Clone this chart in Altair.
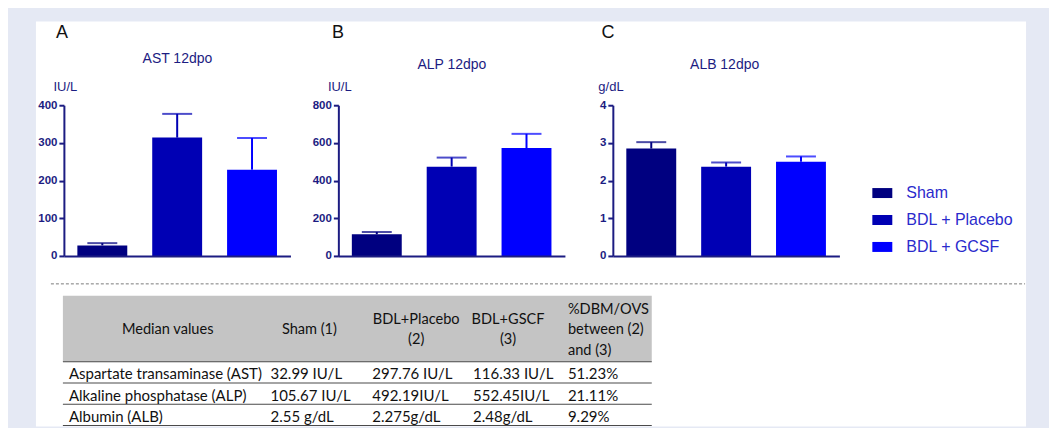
import altair as alt
import pandas as pd

# ---------------- data ----------------
groups = ["Sham", "BDL + Placebo", "BDL + GCSF"]
bar_colors = ["#000080", "#0000b4", "#0000ff"]

ast_mean = [28, 314, 229]
ast_upper = [34, 377, 313]
alp_mean = [115, 474, 573]
alp_upper = [127, 522, 648]
alb_mean = [2.85, 2.37, 2.50]
alb_upper = [3.02, 2.48, 2.64]

table_header = ["Median values", "Sham (1)", "BDL+Placebo\n(2)", "BDL+GSCF\n(3)",
                "%DBM/OVS\nbetween (2)\nand (3)"]
row_labels = ["Aspartate transaminase (AST)", "Alkaline phosphatase (ALP)", "Albumin (ALB)"]
sham_col = ["32.99 IU/L", "105.67 IU/L", "2.55 g/dL"]
placebo_col = ["297.76 IU/L", "492.19IU/L", "2.275g/dL"]
gcsf_col = ["116.33 IU/L", "552.45IU/L", "2.48g/dL"]
pct_col = ["51.23%", "21.11%", "9.29%"]

# ---------------- style ----------------
NAVY = "#1c1c82"
FONT = "Liberation Sans"
TFONT = "Lato"
BG = "#e5e9f4"
W, H = 227, 151
TY = 191  # table offset below panel A origin
HDR_LH = 20.5
ROW_LH = 21.3

color_scale = alt.Scale(domain=groups, range=bar_colors)
legend = alt.Legend(orient="none", legendX=810, legendY=78, title=None,
                    symbolType="M-1,-0.5H1V0.5H-1Z", symbolSize=400,
                    symbolStrokeWidth=0, symbolOpacity=1,
                    labelFont=FONT, labelFontSize=16, labelColor="#2a2acc",
                    labelOffset=14, rowPadding=9, padding=0, offset=0)

one = pd.DataFrame({"a": [0]})


def table_layers():
    hdr_h = 66
    hdr_rect = alt.Chart(one).mark_rect(color="#c4c4c4").encode(
        x=alt.value(-1), x2=alt.value(589), y=alt.value(TY), y2=alt.value(TY + hdr_h))
    dashed = alt.Chart(one).mark_rule(color="#7a7a7a", strokeWidth=1, strokeDash=[3, 2]).encode(
        x=alt.value(-13), x2=alt.value(963), y=alt.value(TY - 12))
    rules = [alt.Chart(one).mark_rule(color="#4a4a4a", strokeWidth=1.2).encode(
        x=alt.value(-1), x2=alt.value(589), y=alt.value(TY + hdr_h + k * ROW_LH))
        for k in range(4)]
    body = []
    for col, xp in [(row_labels, 5), (sham_col, 207), (placebo_col, 309),
                    (gcsf_col, 410), (pct_col, 505)]:
        body.append(alt.Chart(pd.DataFrame({"t": ["\n".join(col)]})).mark_text(
            align="left", baseline="middle", font=TFONT, fontSize=15, color="#111111",
            lineBreak="\n", lineHeight=ROW_LH).encode(
            x=alt.value(xp), y=alt.value(TY + hdr_h + ROW_LH / 2 + 2), text="t:N"))
    header = []
    for i, (xp, al) in enumerate([(104, "center"), (246, "center"), (353, "center"),
                                  (445, "center"), (505, "left")]):
        n = table_header[i].count("\n")
        header.append(alt.Chart(pd.DataFrame({"h": [table_header[i]]})).mark_text(
            align=al, baseline="middle", font=TFONT, fontSize=14.6, color="#111111",
            lineBreak="\n", lineHeight=HDR_LH).encode(
            x=alt.value(xp), y=alt.value(TY + hdr_h / 2 + 1.5 - n * HDR_LH / 2), text="h:N"))
    return [hdr_rect, dashed] + rules + body + header


def panel(letter, title, unit, means, uppers, ymax, yticks,
          title_x, title_y, letter_x, unit_x, with_bg=False):
    df = pd.DataFrame({"group": groups, "mean": means, "upper": uppers})
    x = alt.X("group:N", sort=groups,
              scale=alt.Scale(paddingInner=1 / 3, paddingOuter=0.18),
              axis=alt.Axis(labels=False, ticks=False, title=None,
                            domainColor=NAVY, domainWidth=2, zindex=1))
    yax = alt.Axis(values=yticks, title=unit, titleAngle=0, titleX=unit_x, titleY=-19,
                   titleAlign="left", titleBaseline="middle", titleFont=FONT,
                   titleFontSize=13, titleFontWeight="normal", titleColor=NAVY,
                   labelFont=FONT, labelFontSize=11.5, labelFontWeight="bold",
                   labelColor=NAVY, labelPadding=2, tickColor=NAVY, tickWidth=2,
                   tickSize=5, domainColor=NAVY, domainWidth=2, grid=False, zindex=1)
    ysc = alt.Scale(domain=[0, ymax], nice=False)
    color = alt.Color("group:N", scale=color_scale, legend=legend)
    base = alt.Chart(df)
    bars = base.mark_bar().encode(x=x, y=alt.Y("mean:Q", scale=ysc, axis=yax), color=color)
    err = base.mark_rule(strokeWidth=2).encode(
        x=x, y=alt.Y("mean:Q", scale=ysc, axis=yax), y2="upper:Q", color=color)
    cap = base.mark_tick(size=30, thickness=2).encode(
        x=x, y=alt.Y("upper:Q", scale=ysc, axis=yax), color=color)
    let = alt.Chart(pd.DataFrame({"t": [letter]})).mark_text(
        font=FONT, fontSize=18, color="#111111", align="left", baseline="middle"
    ).encode(text="t:N", x=alt.value(letter_x), y=alt.value(-72))
    ttl = alt.Chart(pd.DataFrame({"t": [title]})).mark_text(
        font=FONT, fontSize=14, color=NAVY, align="center", baseline="middle"
    ).encode(text="t:N", x=alt.value(title_x), y=alt.value(title_y))
    layers = [bars, err, cap, let, ttl]
    if with_bg:
        white = alt.Chart(one).mark_rect(color="white").encode(
            x=alt.value(-28), x2=alt.value(964), y=alt.value(-84), y2=alt.value(322))
        layers = [white] + table_layers() + layers
    return alt.layer(*layers).properties(width=W, height=H)


pA = panel("A", "AST 12dpo", "IU/L", ast_mean, ast_upper, 400, [0, 100, 200, 300, 400],
           113.7, -46.5, -8, -11, with_bg=True)
pB = panel("B", "ALP 12dpo", "IU/L", alp_mean, alp_upper, 800, [0, 200, 400, 600, 800],
           113.7, -40, -6.3, -11)
pC = panel("C", "ALB 12dpo", "g/dL", alb_mean, alb_upper, 4, [0, 1, 2, 3, 4],
           112, -40, -11.3, -15)

chart = alt.hconcat(pA, pB, pC, spacing=48, bounds="flush").properties(
    background=BG,
    padding={"left": 27, "top": 12, "right": 22, "bottom": 0},
).configure_view(stroke="transparent")

chart.save("out.html", embed_options={"renderer": "svg", "actions": False})
